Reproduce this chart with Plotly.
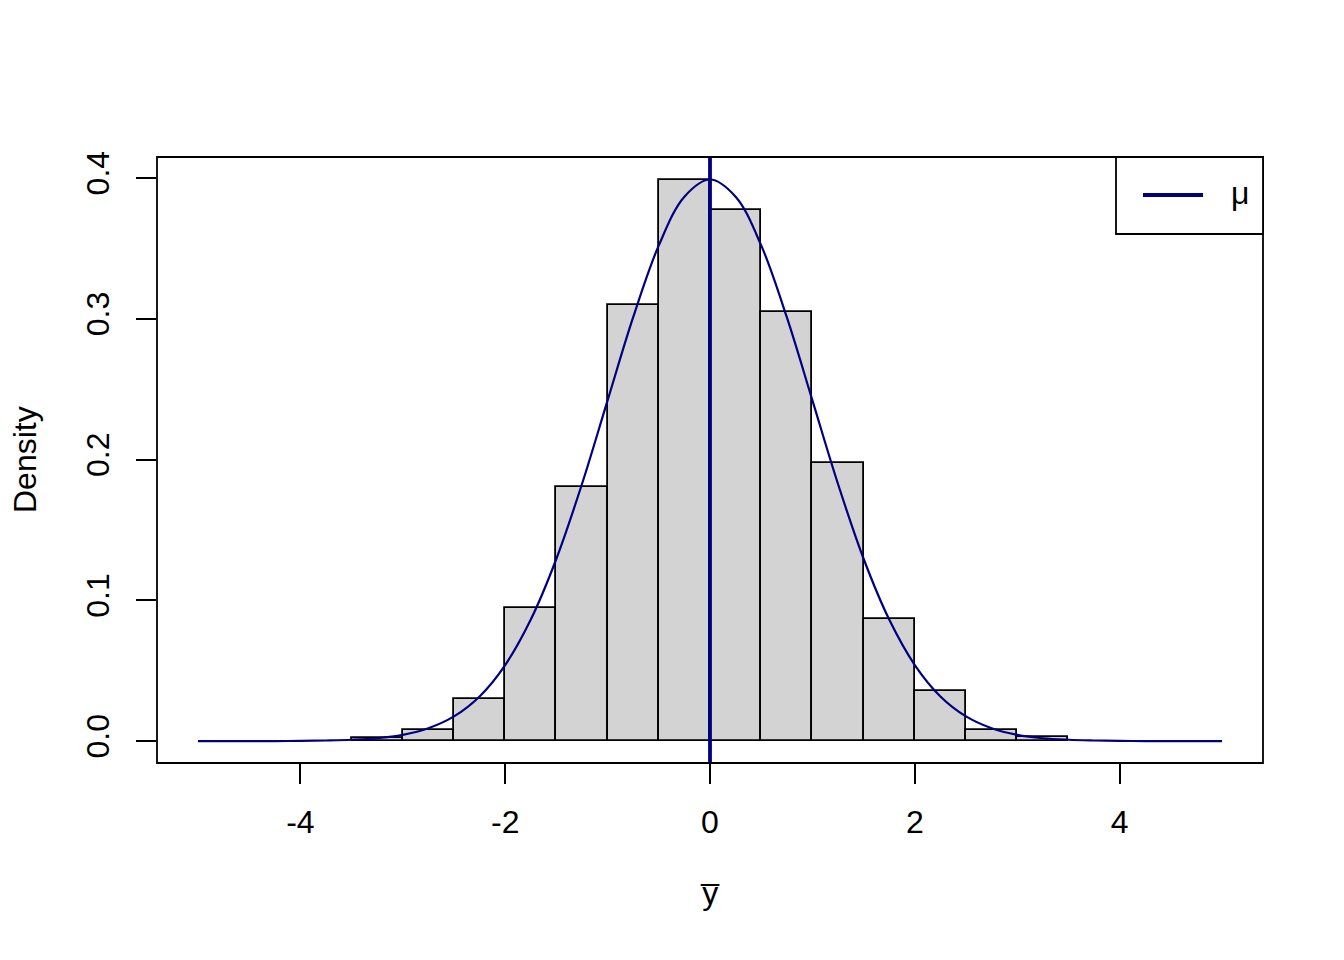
import plotly.graph_objects as go

# Histogram bins (width 0.5) and densities
bin_left = [-3.5, -3.0, -2.5, -2.0, -1.5, -1.0, -0.5, 0.0, 0.5, 1.0, 1.5, 2.0, 2.5, 3.0]
bin_density = [0.002, 0.008, 0.030, 0.0945, 0.1805, 0.310, 0.3986, 0.3773, 0.305, 0.1975, 0.087, 0.0355, 0.008, 0.003]
bin_width = 0.5

# Overlaid density curve
curve_x = [-5.0, -4.75, -4.5, -4.25, -4.0, -3.75, -3.5, -3.25, -3.0, -2.75, -2.5, -2.25, -2.0,
           -1.75, -1.5, -1.25, -1.0, -0.75, -0.5, -0.25, 0.0, 0.25, 0.5, 0.75, 1.0, 1.25, 1.5,
           1.75, 2.0, 2.25, 2.5, 2.75, 3.0, 3.25, 3.5, 3.75, 4.0, 4.25, 4.5, 4.75, 5.0]
curve_y = [0.0000, 0.0000, 0.0000, 0.0000, 0.0001, 0.0004, 0.0009, 0.0020, 0.0044, 0.0091, 0.0175,
           0.0317, 0.0540, 0.0863, 0.1295, 0.1826, 0.2420, 0.3011, 0.3521, 0.3867, 0.3989, 0.3867,
           0.3521, 0.3011, 0.2420, 0.1826, 0.1295, 0.0863, 0.0540, 0.0317, 0.0175, 0.0091, 0.0044,
           0.0020, 0.0009, 0.0004, 0.0001, 0.0000, 0.0000, 0.0000, 0.0000]

mu = 0.0
x_ticks = [-4, -2, 0, 2, 4]
y_ticks = [0.0, 0.1, 0.2, 0.3, 0.4]
y_tick_labels = ["0.0", "0.1", "0.2", "0.3", "0.4"]
x_title = "y\u0305"
y_title = "Density"
legend_label = "\u03bc"

FONT = "Liberation Sans, Arial, sans-serif"
FS = 32
NAVY = "#000080"
LW = 1.8

bar_centers = [b + bin_width / 2 for b in bin_left]

fig = go.Figure()
fig.add_trace(go.Bar(
    x=bar_centers, y=bin_density, width=[bin_width] * len(bin_left),
    marker=dict(color="#D3D3D3", line=dict(color="black", width=LW)),
    showlegend=False, hoverinfo="skip"))
fig.add_trace(go.Scatter(
    x=curve_x, y=curve_y, mode="lines", line=dict(color=NAVY, width=2.2, shape="spline"),
    showlegend=False, hoverinfo="skip"))

# vertical line at mu
fig.add_shape(type="line", xref="x", yref="paper", x0=mu, x1=mu, y0=0, y1=1,
              line=dict(color=NAVY, width=3.8))
# plot box
fig.add_shape(type="rect", xref="paper", yref="paper", x0=0, x1=1, y0=0, y1=1,
              line=dict(color="black", width=LW))
# legend box
fig.add_shape(type="rect", xref="paper", yref="paper", x0=0.8671, x1=1, y0=0.8729, y1=1,
              line=dict(color="black", width=LW), fillcolor="white", layer="above")
fig.add_shape(type="line", xref="paper", yref="paper", x0=0.8915, x1=0.9458, y0=0.9373, y1=0.9373,
              line=dict(color=NAVY, width=3.8), layer="above")
fig.add_annotation(text=legend_label, xref="paper", yref="paper", x=0.9792, y=0.9406,
                   showarrow=False, font=dict(family=FONT, size=FS, color="black"),
                   xanchor="center", yanchor="middle")

# axis titles
fig.add_annotation(text=x_title, xref="paper", yref="paper", x=0.5, y=-(893 - 763) / 606,
                   showarrow=False, font=dict(family=FONT, size=FS, color="black"),
                   xanchor="center", yanchor="middle")
fig.add_annotation(text=y_title, xref="paper", yref="paper", x=-(157 - 25) / 1106, y=0.5,
                   showarrow=False, textangle=-90, font=dict(family=FONT, size=FS, color="black"),
                   xanchor="center", yanchor="middle")

fig.update_layout(
    width=1344, height=960, autosize=False,
    margin=dict(l=149, r=89, t=149, b=205),
    paper_bgcolor="white", plot_bgcolor="white",
    bargap=0, showlegend=False,
    font=dict(family=FONT, size=FS, color="black"),
)
fig.update_xaxes(range=[-5.4, 5.4], tickvals=x_ticks, ticktext=[str(v) for v in x_ticks],
                 ticks="outside", ticklen=20, tickwidth=LW, tickcolor="black",
                 showgrid=False, zeroline=False, showline=False,
                 tickfont=dict(family=FONT, size=FS, color="black"), ticklabelstandoff=11)
fig.update_yaxes(range=[-0.0156, 0.4149], tickvals=y_ticks, ticktext=y_tick_labels,
                 ticks="outside", ticklen=20, tickwidth=LW, tickcolor="black",
                 showgrid=False, zeroline=False, showline=False, tickangle=-90,
                 tickfont=dict(family=FONT, size=FS, color="black"), ticklabelstandoff=14)

fig.write_html("out.html")
